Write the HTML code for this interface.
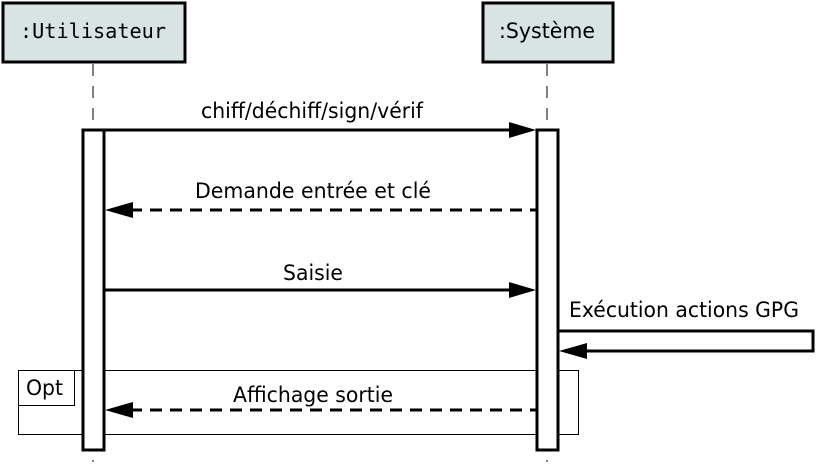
<!DOCTYPE html>
<html><head><meta charset="utf-8"><style>
html,body{margin:0;padding:0;background:#fff;width:817px;height:468px;overflow:hidden}
text{font-family:"DejaVu Sans","Liberation Sans",sans-serif;font-size:21px;fill:#000}
</style></head><body>
<svg width="817" height="468" viewBox="0 0 817 468" xmlns="http://www.w3.org/2000/svg">
<rect x="3" y="3" width="182" height="59" fill="#d9e3e3" stroke="#000" stroke-width="3"/>
<text x="93" y="38" text-anchor="middle" textLength="146" lengthAdjust="spacingAndGlyphs" style="font-family:'DejaVu Sans Mono','Liberation Mono',monospace;font-size:20px">:Utilisateur</text>
<rect x="483" y="3" width="130" height="59" fill="#d9e3e3" stroke="#000" stroke-width="3"/>
<text x="547" y="38" text-anchor="middle" textLength="96" lengthAdjust="spacingAndGlyphs">:Système</text>
<line x1="93" y1="64" x2="93" y2="462" stroke="#000" stroke-width="1" stroke-dasharray="12,10"/>
<line x1="547" y1="64" x2="547" y2="462" stroke="#000" stroke-width="1" stroke-dasharray="12,10"/>
<!-- opt frame -->
<rect x="18.5" y="370.5" width="560" height="64" fill="none" stroke="#000" stroke-width="1"/>
<rect x="18.5" y="370.5" width="56" height="35" fill="#fff" stroke="#000" stroke-width="1"/>
<text x="26" y="395" textLength="37" lengthAdjust="spacingAndGlyphs">Opt</text>
<rect x="83" y="130" width="21" height="320" fill="#fff" stroke="#000" stroke-width="3"/>
<rect x="537" y="130" width="21" height="320" fill="#fff" stroke="#000" stroke-width="3"/>
<!-- msg 1 -->
<text x="312" y="118" text-anchor="middle" textLength="222" lengthAdjust="spacingAndGlyphs">chiff/déchiff/sign/vérif</text>
<line x1="104" y1="130" x2="512" y2="130" stroke="#000" stroke-width="3"/>
<polygon points="536,130 509,122 509,138" fill="#000"/>
<!-- msg 2 -->
<text x="313" y="198" text-anchor="middle" textLength="236" lengthAdjust="spacingAndGlyphs">Demande entrée et clé</text>
<line x1="130" y1="210" x2="536" y2="210" stroke="#000" stroke-width="3" stroke-dasharray="12,8"/>
<polygon points="105,210 133,202 133,218" fill="#000"/>
<!-- msg 3 -->
<text x="313" y="280" text-anchor="middle" textLength="60" lengthAdjust="spacingAndGlyphs">Saisie</text>
<line x1="104" y1="290" x2="512" y2="290" stroke="#000" stroke-width="3"/>
<polygon points="536,290 509,282 509,298" fill="#000"/>
<!-- self msg -->
<text x="569" y="317" textLength="230" lengthAdjust="spacingAndGlyphs">Exécution actions GPG</text>
<polyline points="558,331 813,331 813,351 585,351" fill="none" stroke="#000" stroke-width="3"/>
<polygon points="559,351 587,343 587,359" fill="#000"/>
<!-- msg 4 -->
<text x="313" y="402" text-anchor="middle" textLength="160" lengthAdjust="spacingAndGlyphs">Affichage sortie</text>
<line x1="130" y1="410" x2="536" y2="410" stroke="#000" stroke-width="3" stroke-dasharray="12,8"/>
<polygon points="105,410 133,402 133,418" fill="#000"/>
</svg>
</body></html>
